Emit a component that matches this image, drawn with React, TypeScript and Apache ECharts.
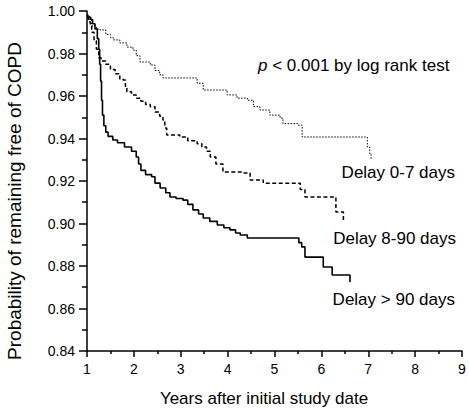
import React, { useEffect, useRef } from "react";
import * as echarts from "echarts";

const xTicks = [1, 2, 3, 4, 5, 6, 7, 8, 9];
const yTicks = [0.84, 0.86, 0.88, 0.9, 0.92, 0.94, 0.96, 0.98, 1.0];

const delay0to7: [number, number][] = [
  [1.0, 0.998], [1.05, 0.996], [1.1, 0.993], [1.2, 0.9915], [1.28, 0.9911],
  [1.4, 0.989], [1.5, 0.9875], [1.56, 0.9864], [1.7, 0.985], [1.85, 0.983],
  [1.98, 0.9816], [2.05, 0.979], [2.13, 0.976], [2.35, 0.9746], [2.45, 0.972],
  [2.55, 0.97], [2.62, 0.9685], [3.2, 0.9685], [3.35, 0.966], [3.48, 0.9628],
  [3.99, 0.9605], [4.2, 0.959], [4.42, 0.958], [4.55, 0.955], [4.69, 0.9534],
  [4.9, 0.951], [5.12, 0.9496], [5.18, 0.947], [5.5, 0.9463], [5.59, 0.9407],
  [6.94, 0.9407], [6.98, 0.936], [7.03, 0.933], [7.06, 0.93],
];

const delay8to90: [number, number][] = [
  [1.0, 0.997], [1.03, 0.995], [1.07, 0.993], [1.1, 0.99], [1.15, 0.986],
  [1.2, 0.982], [1.25, 0.978], [1.3, 0.9765], [1.4, 0.975], [1.5, 0.9725],
  [1.6, 0.9705], [1.7, 0.968], [1.77, 0.9675], [1.82, 0.964], [1.85, 0.962],
  [1.95, 0.9605], [2.05, 0.959], [2.15, 0.9575], [2.25, 0.956], [2.35, 0.955],
  [2.45, 0.9525], [2.55, 0.9505], [2.62, 0.9487], [2.66, 0.945], [2.7, 0.9417],
  [2.98, 0.9407], [3.15, 0.939], [3.35, 0.9375], [3.45, 0.936], [3.55, 0.934],
  [3.63, 0.9313], [3.75, 0.928], [3.9, 0.9242], [4.33, 0.9238], [4.48, 0.9205],
  [4.76, 0.919], [5.48, 0.919], [5.55, 0.916], [5.65, 0.9125], [6.29, 0.9125],
  [6.31, 0.9054], [6.47, 0.9017],
];

const delayOver90: [number, number][] = [
  [1.0, 0.998], [1.02, 0.997], [1.08, 0.996], [1.12, 0.994], [1.17, 0.9915],
  [1.22, 0.987], [1.25, 0.982], [1.27, 0.975], [1.29, 0.967], [1.31, 0.958],
  [1.33, 0.951], [1.36, 0.946], [1.4, 0.943], [1.45, 0.941], [1.55, 0.9393],
  [1.65, 0.938], [1.8, 0.936], [1.95, 0.934], [2.05, 0.9313], [2.1, 0.928],
  [2.15, 0.925], [2.25, 0.923], [2.38, 0.922], [2.45, 0.919], [2.56, 0.9167],
  [2.68, 0.9145], [2.77, 0.9125], [2.9, 0.9118], [3.05, 0.911], [3.15, 0.909],
  [3.26, 0.9064], [3.38, 0.9045], [3.48, 0.9026], [3.62, 0.901], [3.78, 0.8993],
  [3.92, 0.898], [4.05, 0.897], [4.17, 0.8955], [4.27, 0.8946], [4.42, 0.8932],
  [5.48, 0.8932], [5.52, 0.891], [5.58, 0.889], [5.65, 0.8842], [6.02, 0.8842],
  [6.04, 0.8795], [6.23, 0.8758], [6.61, 0.8725],
];

const FONT = "'Liberation Sans', Arial, sans-serif";

export default function App() {
  const ref = useRef<HTMLDivElement>(null);
  useEffect(() => {
    if (!ref.current) return;
    const chart = echarts.init(ref.current, null, { renderer: "svg" });
    chart.setOption({
      animation: false,
      backgroundColor: "#ffffff",
      grid: { left: 87, right: 7, top: 11, bottom: 62 },
      xAxis: {
        type: "value",
        min: xTicks[0],
        max: xTicks[xTicks.length - 1],
        interval: 1,
        splitLine: { show: false },
        axisLine: { lineStyle: { color: "#000", width: 1.5 } },
        axisTick: { show: true, inside: false, length: 6, lineStyle: { color: "#000", width: 1.5 } },
        minorTick: { show: true, splitNumber: 2, length: 3, lineStyle: { color: "#000", width: 1.5 } },
        axisLabel: { color: "#000", fontSize: 14, fontFamily: FONT, margin: 11 },
      },
      yAxis: {
        type: "value",
        min: yTicks[0],
        max: yTicks[yTicks.length - 1],
        interval: 0.02,
        splitLine: { show: false },
        axisLine: { show: true, lineStyle: { color: "#000", width: 1.5 } },
        axisTick: { show: true, inside: false, length: 8, lineStyle: { color: "#000", width: 1.5 } },
        minorTick: { show: true, splitNumber: 2, length: 5, lineStyle: { color: "#000", width: 1.5 } },
        axisLabel: {
          color: "#000",
          fontSize: 14,
          fontFamily: FONT,
          margin: 12,
          formatter: (v: number) => v.toFixed(2),
        },
      },
      series: [
        {
          name: "Delay 0-7 days",
          type: "line",
          step: "end",
          showSymbol: false,
          data: delay0to7,
          lineStyle: { color: "#000", width: 1, type: [1.5, 1.5] },
        },
        {
          name: "Delay 8-90 days",
          type: "line",
          step: "end",
          showSymbol: false,
          data: delay8to90,
          lineStyle: { color: "#000", width: 1.5, type: [4, 2.5] },
        },
        {
          name: "Delay > 90 days",
          type: "line",
          step: "end",
          showSymbol: false,
          data: delayOver90,
          lineStyle: { color: "#000", width: 1.6, type: "solid" },
        },
      ],
      graphic: [
        {
          type: "text",
          x: 14,
          y: 201,
          rotation: Math.PI / 2,
          style: {
            text: "Probability of remaining free of COPD",
            font: `19px ${FONT}`,
            fill: "#000",
            align: "center",
            verticalAlign: "middle",
          },
        },
        {
          type: "text",
          x: 264,
          y: 398,
          style: {
            text: "Years after initial study date",
            font: `17px ${FONT}`,
            fill: "#000",
            align: "center",
            verticalAlign: "middle",
          },
        },
        {
          type: "text",
          x: 258,
          y: 65,
          style: {
            text: "{i|p} < 0.001 by log rank test",
            font: `17px ${FONT}`,
            fill: "#000",
            align: "left",
            verticalAlign: "middle",
            rich: {
              i: { fontStyle: "italic", fontSize: 17, fontFamily: FONT, fill: "#000" },
            },
          },
        },
        {
          type: "text",
          x: 455,
          y: 172,
          style: {
            text: "Delay 0-7 days",
            font: `17px ${FONT}`,
            fill: "#000",
            align: "right",
            verticalAlign: "middle",
          },
        },
        {
          type: "text",
          x: 456,
          y: 238,
          style: {
            text: "Delay 8-90 days",
            font: `17px ${FONT}`,
            fill: "#000",
            align: "right",
            verticalAlign: "middle",
          },
        },
        {
          type: "text",
          x: 455,
          y: 299,
          style: {
            text: "Delay > 90 days",
            font: `17px ${FONT}`,
            fill: "#000",
            align: "right",
            verticalAlign: "middle",
          },
        },
      ],
    });
    return () => chart.dispose();
  }, []);
  return <div ref={ref} style={{ width: 469, height: 413, position: "absolute", left: 0, top: 0 }} />;
}
